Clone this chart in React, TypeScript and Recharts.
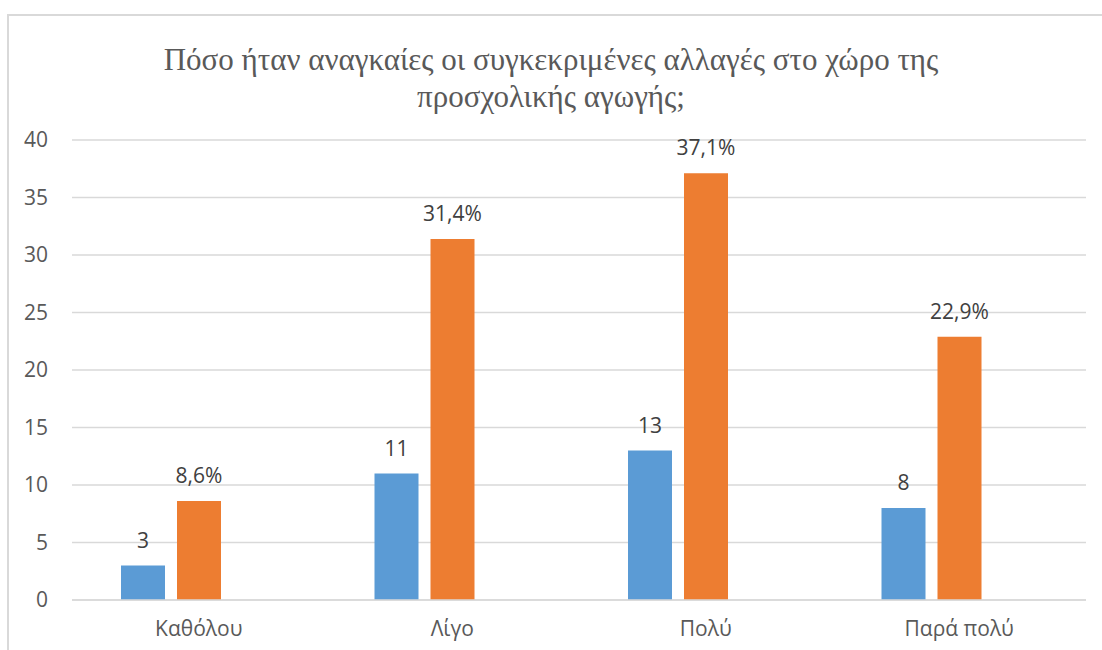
import React from 'react';
import { BarChart, Bar, XAxis, YAxis, CartesianGrid, LabelList } from 'recharts';

const categories = ['Καθόλου', 'Λίγο', 'Πολύ', 'Παρά πολύ'];
const counts = [3, 11, 13, 8];
const percents = [8.6, 31.4, 37.1, 22.9];
// third series in the source chart is empty but still takes a slot in each group
const emptySeries: (number | null)[] = [null, null, null, null];
const yTicks = [0, 5, 10, 15, 20, 25, 30, 35, 40];

const titleLines = [
  'Πόσο ήταν αναγκαίες οι συγκεκριμένες αλλαγές στο χώρο της',
  'προσχολικής αγωγής;',
];

const data = categories.map((name, i) => ({
  name,
  count: counts[i],
  percent: percents[i],
  empty: emptySeries[i],
}));

const TEXT = '#595959';
const LABEL = '#404040';
const GRID = '#d9d9d9';
const FONT = '"Open Sans", sans-serif';

const fmtPercent = (v: any) => `${Number(v).toFixed(1).replace('.', ',')}%`;

export default function App() {
  return (
    <div style={{ position: 'absolute', left: 0, top: 0, width: 1102, height: 650, overflow: 'hidden', background: '#fff' }}>
      <div
        style={{
          position: 'absolute',
          left: 7,
          top: 14,
          width: 1200,
          height: 700,
          borderLeft: `2px solid ${GRID}`,
          borderTop: `2px solid ${GRID}`,
        }}
      />
      <div
        style={{
          position: 'absolute',
          left: 0,
          top: 41,
          width: 1102,
          textAlign: 'center',
          fontFamily: '"Liberation Serif", "Times New Roman", serif',
          fontSize: 31,
          lineHeight: '37px',
          color: TEXT,
        }}
      >
        {titleLines.map((l) => (
          <div key={l}>{l}</div>
        ))}
      </div>
      <div style={{ position: 'absolute', left: 0, top: 0 }}>
        <BarChart
          width={1102}
          height={650}
          data={data}
          margin={{ top: 140, right: 16, bottom: 10, left: 8 }}
          barGap={12}
          barCategoryGap={49}
        >
          <CartesianGrid vertical={false} stroke={GRID} strokeWidth={1.5} />
          <XAxis
            dataKey="name"
            height={40}
            axisLine={{ stroke: GRID, strokeWidth: 1.5 }}
            tickLine={false}
            tickSize={0}
            tickMargin={21}
            tick={{ fill: TEXT, fontSize: 21, fontFamily: FONT }}
          />
          <YAxis
            width={64}
            domain={[0, 40]}
            ticks={yTicks}
            interval={0}
            axisLine={false}
            tickLine={false}
            tickSize={0}
            tickMargin={24}
            tick={{ fill: TEXT, fontSize: 21, fontFamily: FONT }}
          />
          <Bar dataKey="count" fill="#5B9BD5" isAnimationActive={false}>
            <LabelList dataKey="count" position="top" offset={18} fill={LABEL} fontSize={21} fontFamily={FONT} />
          </Bar>
          <Bar dataKey="percent" fill="#ED7D31" isAnimationActive={false}>
            <LabelList
              dataKey="percent"
              position="top"
              offset={18}
              fill={LABEL}
              fontSize={21}
              fontFamily={FONT}
              formatter={fmtPercent}
            />
          </Bar>
          <Bar dataKey="empty" fill="#A5A5A5" isAnimationActive={false} />
        </BarChart>
      </div>
    </div>
  );
}
